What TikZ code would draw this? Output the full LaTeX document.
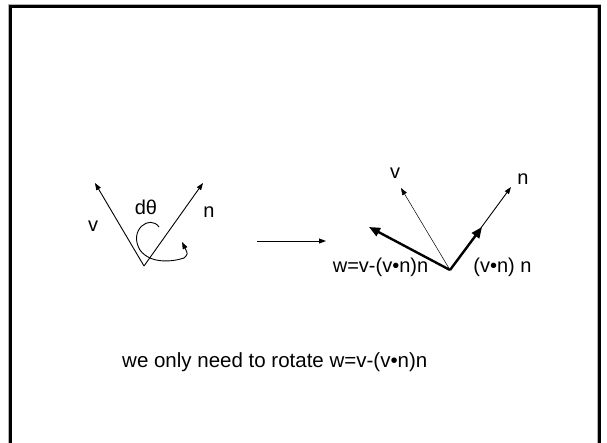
\documentclass[tikz,border=0pt]{standalone}
\usepackage{fontspec}
\setmainfont{Liberation Sans}
\usetikzlibrary{arrows.meta}
\begin{document}
\begin{tikzpicture}[x=1pt,y=-1pt,
  thinvec/.style={line width=0.9pt,-{Triangle[length=7pt,width=5pt]}},
  hairvec/.style={line width=0.5pt,-{Triangle[length=7pt,width=5pt]}},
  thickvec/.style={line width=2.4pt,-{Triangle[length=11pt,width=9pt]}},
  lbl/.style={inner sep=0pt,font=\fontsize{20}{22}\selectfont},
  bodytext/.style={inner sep=0pt,font=\fontsize{20.5}{23}\selectfont}]
\useasboundingbox (0,0) rectangle (607,442);
\fill[white] (0,0) rectangle (607,442);
% frame
\draw[gray!60,line width=4.5pt] (10,443) -- (10,6) -- (599,6) -- (599,443);
\draw[black,line width=3pt] (10,443) -- (10,6) -- (599,6) -- (599,443);
% left diagram
\coordinate (o1) at (144,266);
\coordinate (v1) at (95,183);
\coordinate (n1) at (203,183);
\draw[thinvec] (o1) -- (v1);
\draw[thinvec] (o1) -- (n1);
\node[lbl] (lv1) at (93,226) {v};
\node[lbl] (ln1) at (209,212) {n};
\node[lbl] (ldt) at (146,207) {dθ};
\coordinate (c0) at (159,227);
\coordinate (c1) at (182,242);
\draw[line width=0.9pt,-{Triangle[length=7pt,width=5pt]}]
  (c0) .. controls (150,214) and (128,230) .. (140,250)
       .. controls (150,264) and (172,262) .. (184,258)
       .. controls (188,254) .. (c1);
% middle arrow
\coordinate (m0) at (257,241);
\coordinate (m1) at (326,241);
\draw[thinvec] (m0) -- (m1);
% right diagram
\coordinate (o2) at (450,270);
\coordinate (v2) at (401,188);
\coordinate (n2) at (511,187);
\coordinate (w2) at (369,227);
\coordinate (p2) at (482,227);
\draw[hairvec] (o2) -- (v2);
\draw[thinvec] (o2) -- (n2);
\draw[thickvec] (o2) -- (w2);
\draw[thickvec] (o2) -- (p2);
\node[lbl] (lv2) at (395,173) {v};
\node[lbl] (ln2) at (523,179) {n};
\node[lbl,anchor=base] (lw2) at (380.5,272) {w=v-(v•n)n};
\node[lbl,anchor=base] (lp2) at (502.5,272) {(v•n) n};
% bottom text
\node[bodytext,anchor=base west] (txt) at (122,367) {we only need to rotate w=v-(v•n)n};
\end{tikzpicture}
\end{document}
